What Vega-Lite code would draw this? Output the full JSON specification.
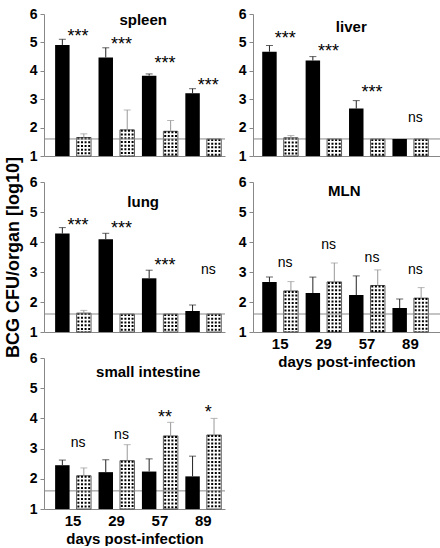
{
  "$schema": "https://vega.github.io/schema/vega-lite/v6.json",
  "padding": {"left": 4, "top": 7, "right": 0, "bottom": 0},
  "columns": 2,
  "spacing": {"row": 26, "column": 28},
  "bounds": "flush",
  "datasets": {
    "cfu": [
      {"organ": "spleen", "day": 15, "group": "black", "value": 4.91, "upper": 5.11},
      {"organ": "spleen", "day": 15, "group": "dotted", "value": 1.65, "upper": 1.78},
      {"organ": "spleen", "day": 29, "group": "black", "value": 4.47, "upper": 4.81},
      {"organ": "spleen", "day": 29, "group": "dotted", "value": 1.92, "upper": 2.62},
      {"organ": "spleen", "day": 57, "group": "black", "value": 3.83, "upper": 3.89},
      {"organ": "spleen", "day": 57, "group": "dotted", "value": 1.87, "upper": 2.25},
      {"organ": "spleen", "day": 89, "group": "black", "value": 3.21, "upper": 3.37},
      {"organ": "spleen", "day": 89, "group": "dotted", "value": 1.6, "upper": null},
      {"organ": "liver", "day": 15, "group": "black", "value": 4.67, "upper": 4.89},
      {"organ": "liver", "day": 15, "group": "dotted", "value": 1.64, "upper": 1.72},
      {"organ": "liver", "day": 29, "group": "black", "value": 4.36, "upper": 4.5},
      {"organ": "liver", "day": 29, "group": "dotted", "value": 1.6, "upper": null},
      {"organ": "liver", "day": 57, "group": "black", "value": 2.67, "upper": 2.95},
      {"organ": "liver", "day": 57, "group": "dotted", "value": 1.6, "upper": null},
      {"organ": "liver", "day": 89, "group": "black", "value": 1.6, "upper": null},
      {"organ": "liver", "day": 89, "group": "dotted", "value": 1.6, "upper": null},
      {"organ": "lung", "day": 15, "group": "black", "value": 4.28, "upper": 4.48},
      {"organ": "lung", "day": 15, "group": "dotted", "value": 1.63, "upper": 1.72},
      {"organ": "lung", "day": 29, "group": "black", "value": 4.09, "upper": 4.29},
      {"organ": "lung", "day": 29, "group": "dotted", "value": 1.6, "upper": null},
      {"organ": "lung", "day": 57, "group": "black", "value": 2.79, "upper": 3.06},
      {"organ": "lung", "day": 57, "group": "dotted", "value": 1.6, "upper": null},
      {"organ": "lung", "day": 89, "group": "black", "value": 1.7, "upper": 1.9},
      {"organ": "lung", "day": 89, "group": "dotted", "value": 1.6, "upper": null},
      {"organ": "MLN", "day": 15, "group": "black", "value": 2.67, "upper": 2.83},
      {"organ": "MLN", "day": 15, "group": "dotted", "value": 2.37, "upper": 2.68},
      {"organ": "MLN", "day": 29, "group": "black", "value": 2.3, "upper": 2.83},
      {"organ": "MLN", "day": 29, "group": "dotted", "value": 2.67, "upper": 3.3},
      {"organ": "MLN", "day": 57, "group": "black", "value": 2.23, "upper": 2.87},
      {"organ": "MLN", "day": 57, "group": "dotted", "value": 2.55, "upper": 3.07},
      {"organ": "MLN", "day": 89, "group": "black", "value": 1.8, "upper": 2.1},
      {"organ": "MLN", "day": 89, "group": "dotted", "value": 2.13, "upper": 2.48},
      {"organ": "small intestine", "day": 15, "group": "black", "value": 2.45, "upper": 2.62},
      {"organ": "small intestine", "day": 15, "group": "dotted", "value": 2.1, "upper": 2.36},
      {"organ": "small intestine", "day": 29, "group": "black", "value": 2.22, "upper": 2.63},
      {"organ": "small intestine", "day": 29, "group": "dotted", "value": 2.6, "upper": 3.13},
      {"organ": "small intestine", "day": 57, "group": "black", "value": 2.24, "upper": 2.66},
      {"organ": "small intestine", "day": 57, "group": "dotted", "value": 3.42, "upper": 3.87},
      {"organ": "small intestine", "day": 89, "group": "black", "value": 2.08, "upper": 2.75},
      {"organ": "small intestine", "day": 89, "group": "dotted", "value": 3.45, "upper": 4.0}
    ],
    "sig": [
      {"organ": "spleen", "day": 15, "label": "***", "at": 5.2},
      {"organ": "spleen", "day": 29, "label": "***", "at": 4.9},
      {"organ": "spleen", "day": 57, "label": "***", "at": 4.23},
      {"organ": "spleen", "day": 89, "label": "***", "at": 3.48},
      {"organ": "liver", "day": 15, "label": "***", "at": 5.12},
      {"organ": "liver", "day": 29, "label": "***", "at": 4.66},
      {"organ": "liver", "day": 57, "label": "***", "at": 3.23},
      {"organ": "liver", "day": 89, "label": "ns", "at": 2.34},
      {"organ": "lung", "day": 15, "label": "***", "at": 4.52},
      {"organ": "lung", "day": 29, "label": "***", "at": 4.45},
      {"organ": "lung", "day": 57, "label": "***", "at": 3.21},
      {"organ": "lung", "day": 89, "label": "ns", "at": 3.07},
      {"organ": "MLN", "day": 15, "label": "ns", "at": 3.3},
      {"organ": "MLN", "day": 29, "label": "ns", "at": 3.9},
      {"organ": "MLN", "day": 57, "label": "ns", "at": 3.48},
      {"organ": "MLN", "day": 89, "label": "ns", "at": 3.08},
      {"organ": "small intestine", "day": 15, "label": "ns", "at": 3.19},
      {"organ": "small intestine", "day": 29, "label": "ns", "at": 3.44},
      {"organ": "small intestine", "day": 57, "label": "**", "at": 4.01},
      {"organ": "small intestine", "day": 89, "label": "*", "at": 4.18}
    ]
  },
  "concat": [
    {
      "width": 181, "height": 142,
      "layer": [
        {"data": {"name": "cfu"}, "transform": [{"filter": "datum.organ === 'spleen' && datum.group === 'dotted'"}],
         "mark": {"type": "bar", "fill": "white", "stroke": "#333", "strokeWidth": 0.8},
         "encoding": {
           "x": {"field": "day", "type": "ordinal", "scale": {"paddingInner": 0, "paddingOuter": 0.085, "align": 1}, "axis": {"labels": false, "ticks": false, "title": null}},
           "xOffset": {"field": "group", "type": "nominal", "scale": {"domain": ["black", "dotted"], "paddingInner": 0.326, "paddingOuter": 0.174}},
           "y": {"field": "value", "type": "quantitative", "scale": {"domain": [1, 6], "nice": false, "zero": false}, "axis": {"values": [1, 2, 3, 4, 5, 6], "labelOverlap": false, "labelFontSize": 14, "labelFontWeight": "bold", "tickSize": 4, "labelPadding": 3, "title": null}},
           "y2": {"datum": 1}}},
        {"data": {"name": "cfu"}, "transform": [{"filter": "datum.organ === 'spleen' && datum.group === 'dotted'"}],
         "mark": {"type": "rule", "color": "black", "strokeWidth": 2, "strokeDash": [2, 1.7], "xOffset": 5.3},
         "encoding": {"x": {"field": "day", "type": "ordinal"}, "y": {"field": "value", "type": "quantitative"}, "y2": {"datum": 1}}},
        {"data": {"name": "cfu"}, "transform": [{"filter": "datum.organ === 'spleen' && datum.group === 'dotted'"}],
         "mark": {"type": "rule", "color": "black", "strokeWidth": 2, "strokeDash": [2, 1.7], "xOffset": 8.9},
         "encoding": {"x": {"field": "day", "type": "ordinal"}, "y": {"field": "value", "type": "quantitative"}, "y2": {"datum": 1}}},
        {"data": {"name": "cfu"}, "transform": [{"filter": "datum.organ === 'spleen' && datum.group === 'dotted'"}],
         "mark": {"type": "rule", "color": "black", "strokeWidth": 2, "strokeDash": [2, 1.7], "xOffset": 12.5},
         "encoding": {"x": {"field": "day", "type": "ordinal"}, "y": {"field": "value", "type": "quantitative"}, "y2": {"datum": 1}}},
        {"data": {"name": "cfu"}, "transform": [{"filter": "datum.organ === 'spleen' && datum.group === 'dotted'"}],
         "mark": {"type": "rule", "color": "black", "strokeWidth": 2, "strokeDash": [2, 1.7], "xOffset": 16.1},
         "encoding": {"x": {"field": "day", "type": "ordinal"}, "y": {"field": "value", "type": "quantitative"}, "y2": {"datum": 1}}},
        {"data": {"values": [{}]}, "mark": {"type": "rule", "color": "#888", "strokeWidth": 1}, "encoding": {"y": {"datum": 1.6}}},
        {"data": {"name": "cfu"}, "transform": [{"filter": "datum.organ === 'spleen' && datum.group === 'black'"}],
         "mark": {"type": "bar", "color": "black"},
         "encoding": {"x": {"field": "day", "type": "ordinal"}, "xOffset": {"field": "group", "type": "nominal"}, "y": {"field": "value", "type": "quantitative"}, "y2": {"datum": 1}}},
        {"data": {"name": "cfu"}, "transform": [{"filter": "datum.organ === 'spleen' && datum.upper != null"}],
         "mark": {"type": "rule", "strokeWidth": 1},
         "encoding": {"x": {"field": "day", "type": "ordinal"}, "xOffset": {"field": "group", "type": "nominal"}, "y": {"field": "value", "type": "quantitative"}, "y2": {"field": "upper"},
           "color": {"field": "group", "type": "nominal", "scale": {"domain": ["black", "dotted"], "range": ["#222", "#999"]}, "legend": null}}},
        {"data": {"name": "cfu"}, "transform": [{"filter": "datum.organ === 'spleen' && datum.upper != null"}],
         "mark": {"type": "tick", "size": 7, "thickness": 1},
         "encoding": {"x": {"field": "day", "type": "ordinal"}, "xOffset": {"field": "group", "type": "nominal"}, "y": {"field": "upper", "type": "quantitative"},
           "color": {"field": "group", "type": "nominal", "scale": {"domain": ["black", "dotted"], "range": ["#222", "#999"]}, "legend": null}}},
        {"data": {"name": "sig"}, "transform": [{"filter": "datum.organ === 'spleen'"}],
         "mark": {"type": "text", "fontSize": 18, "dx": 5, "baseline": "middle"},
         "encoding": {"x": {"field": "day", "type": "ordinal"}, "y": {"field": "at", "type": "quantitative"}, "text": {"field": "label"}}},
        {"data": {"values": [{"t": "spleen"}]},
         "mark": {"type": "text", "fontSize": 15, "fontWeight": "bold", "dx": 5, "baseline": "middle"},
         "encoding": {"x": {"datum": 29, "type": "ordinal", "bandPosition": 1}, "y": {"datum": 5.8, "type": "quantitative"}, "text": {"field": "t"}}}
      ]
    },
    {
      "width": 187, "height": 142,
      "layer": [
        {"data": {"name": "cfu"}, "transform": [{"filter": "datum.organ === 'liver' && datum.group === 'dotted'"}],
         "mark": {"type": "bar", "fill": "white", "stroke": "#333", "strokeWidth": 0.8},
         "encoding": {
           "x": {"field": "day", "type": "ordinal", "scale": {"paddingInner": 0, "paddingOuter": 0.154, "align": 0.41}, "axis": {"labels": false, "ticks": false, "title": null}},
           "xOffset": {"field": "group", "type": "nominal", "scale": {"domain": ["black", "dotted"], "paddingInner": 0.326, "paddingOuter": 0.174}},
           "y": {"field": "value", "type": "quantitative", "scale": {"domain": [1, 6], "nice": false, "zero": false}, "axis": {"values": [1, 2, 3, 4, 5, 6], "labelOverlap": false, "labelFontSize": 14, "labelFontWeight": "bold", "tickSize": 4, "labelPadding": 3, "title": null}},
           "y2": {"datum": 1}}},
        {"data": {"name": "cfu"}, "transform": [{"filter": "datum.organ === 'liver' && datum.group === 'dotted'"}],
         "mark": {"type": "rule", "color": "black", "strokeWidth": 2, "strokeDash": [2, 1.7], "xOffset": 5.3},
         "encoding": {"x": {"field": "day", "type": "ordinal"}, "y": {"field": "value", "type": "quantitative"}, "y2": {"datum": 1}}},
        {"data": {"name": "cfu"}, "transform": [{"filter": "datum.organ === 'liver' && datum.group === 'dotted'"}],
         "mark": {"type": "rule", "color": "black", "strokeWidth": 2, "strokeDash": [2, 1.7], "xOffset": 8.9},
         "encoding": {"x": {"field": "day", "type": "ordinal"}, "y": {"field": "value", "type": "quantitative"}, "y2": {"datum": 1}}},
        {"data": {"name": "cfu"}, "transform": [{"filter": "datum.organ === 'liver' && datum.group === 'dotted'"}],
         "mark": {"type": "rule", "color": "black", "strokeWidth": 2, "strokeDash": [2, 1.7], "xOffset": 12.5},
         "encoding": {"x": {"field": "day", "type": "ordinal"}, "y": {"field": "value", "type": "quantitative"}, "y2": {"datum": 1}}},
        {"data": {"name": "cfu"}, "transform": [{"filter": "datum.organ === 'liver' && datum.group === 'dotted'"}],
         "mark": {"type": "rule", "color": "black", "strokeWidth": 2, "strokeDash": [2, 1.7], "xOffset": 16.1},
         "encoding": {"x": {"field": "day", "type": "ordinal"}, "y": {"field": "value", "type": "quantitative"}, "y2": {"datum": 1}}},
        {"data": {"values": [{}]}, "mark": {"type": "rule", "color": "#888", "strokeWidth": 1}, "encoding": {"y": {"datum": 1.6}}},
        {"data": {"name": "cfu"}, "transform": [{"filter": "datum.organ === 'liver' && datum.group === 'black'"}],
         "mark": {"type": "bar", "color": "black"},
         "encoding": {"x": {"field": "day", "type": "ordinal"}, "xOffset": {"field": "group", "type": "nominal"}, "y": {"field": "value", "type": "quantitative"}, "y2": {"datum": 1}}},
        {"data": {"name": "cfu"}, "transform": [{"filter": "datum.organ === 'liver' && datum.upper != null"}],
         "mark": {"type": "rule", "strokeWidth": 1},
         "encoding": {"x": {"field": "day", "type": "ordinal"}, "xOffset": {"field": "group", "type": "nominal"}, "y": {"field": "value", "type": "quantitative"}, "y2": {"field": "upper"},
           "color": {"field": "group", "type": "nominal", "scale": {"domain": ["black", "dotted"], "range": ["#222", "#999"]}, "legend": null}}},
        {"data": {"name": "cfu"}, "transform": [{"filter": "datum.organ === 'liver' && datum.upper != null"}],
         "mark": {"type": "tick", "size": 7, "thickness": 1},
         "encoding": {"x": {"field": "day", "type": "ordinal"}, "xOffset": {"field": "group", "type": "nominal"}, "y": {"field": "upper", "type": "quantitative"},
           "color": {"field": "group", "type": "nominal", "scale": {"domain": ["black", "dotted"], "range": ["#222", "#999"]}, "legend": null}}},
        {"data": {"name": "sig"}, "transform": [{"filter": "datum.organ === 'liver' && datum.label !== 'ns'"}],
         "mark": {"type": "text", "fontSize": 18, "dx": 5, "baseline": "middle"},
         "encoding": {"x": {"field": "day", "type": "ordinal"}, "y": {"field": "at", "type": "quantitative"}, "text": {"field": "label"}}},
        {"data": {"name": "sig"}, "transform": [{"filter": "datum.organ === 'liver' && datum.label === 'ns'"}],
         "mark": {"type": "text", "fontSize": 14, "dx": 5, "baseline": "middle"},
         "encoding": {"x": {"field": "day", "type": "ordinal"}, "y": {"field": "at", "type": "quantitative"}, "text": {"field": "label"}}},
        {"data": {"values": [{"t": "liver"}]},
         "mark": {"type": "text", "fontSize": 15, "fontWeight": "bold", "dx": 6, "baseline": "middle"},
         "encoding": {"x": {"datum": 29, "type": "ordinal", "bandPosition": 1}, "y": {"datum": 5.55, "type": "quantitative"}, "text": {"field": "t"}}}
      ]
    },
    {
      "width": 181, "height": 150,
      "layer": [
        {"data": {"name": "cfu"}, "transform": [{"filter": "datum.organ === 'lung' && datum.group === 'dotted'"}],
         "mark": {"type": "bar", "fill": "white", "stroke": "#333", "strokeWidth": 0.8},
         "encoding": {
           "x": {"field": "day", "type": "ordinal", "scale": {"paddingInner": 0, "paddingOuter": 0.085, "align": 1}, "axis": {"labels": false, "ticks": false, "title": null}},
           "xOffset": {"field": "group", "type": "nominal", "scale": {"domain": ["black", "dotted"], "paddingInner": 0.326, "paddingOuter": 0.174}},
           "y": {"field": "value", "type": "quantitative", "scale": {"domain": [1, 6], "nice": false, "zero": false}, "axis": {"values": [1, 2, 3, 4, 5, 6], "labelOverlap": false, "labelFontSize": 14, "labelFontWeight": "bold", "tickSize": 4, "labelPadding": 3, "title": "BCG CFU/organ [log10]", "titleFontSize": 18, "titleFontWeight": "bold", "titlePadding": 7}},
           "y2": {"datum": 1}}},
        {"data": {"name": "cfu"}, "transform": [{"filter": "datum.organ === 'lung' && datum.group === 'dotted'"}],
         "mark": {"type": "rule", "color": "black", "strokeWidth": 2, "strokeDash": [2, 1.7], "xOffset": 5.3},
         "encoding": {"x": {"field": "day", "type": "ordinal"}, "y": {"field": "value", "type": "quantitative"}, "y2": {"datum": 1}}},
        {"data": {"name": "cfu"}, "transform": [{"filter": "datum.organ === 'lung' && datum.group === 'dotted'"}],
         "mark": {"type": "rule", "color": "black", "strokeWidth": 2, "strokeDash": [2, 1.7], "xOffset": 8.9},
         "encoding": {"x": {"field": "day", "type": "ordinal"}, "y": {"field": "value", "type": "quantitative"}, "y2": {"datum": 1}}},
        {"data": {"name": "cfu"}, "transform": [{"filter": "datum.organ === 'lung' && datum.group === 'dotted'"}],
         "mark": {"type": "rule", "color": "black", "strokeWidth": 2, "strokeDash": [2, 1.7], "xOffset": 12.5},
         "encoding": {"x": {"field": "day", "type": "ordinal"}, "y": {"field": "value", "type": "quantitative"}, "y2": {"datum": 1}}},
        {"data": {"name": "cfu"}, "transform": [{"filter": "datum.organ === 'lung' && datum.group === 'dotted'"}],
         "mark": {"type": "rule", "color": "black", "strokeWidth": 2, "strokeDash": [2, 1.7], "xOffset": 16.1},
         "encoding": {"x": {"field": "day", "type": "ordinal"}, "y": {"field": "value", "type": "quantitative"}, "y2": {"datum": 1}}},
        {"data": {"values": [{}]}, "mark": {"type": "rule", "color": "#888", "strokeWidth": 1}, "encoding": {"y": {"datum": 1.6}}},
        {"data": {"name": "cfu"}, "transform": [{"filter": "datum.organ === 'lung' && datum.group === 'black'"}],
         "mark": {"type": "bar", "color": "black"},
         "encoding": {"x": {"field": "day", "type": "ordinal"}, "xOffset": {"field": "group", "type": "nominal"}, "y": {"field": "value", "type": "quantitative"}, "y2": {"datum": 1}}},
        {"data": {"name": "cfu"}, "transform": [{"filter": "datum.organ === 'lung' && datum.upper != null"}],
         "mark": {"type": "rule", "strokeWidth": 1},
         "encoding": {"x": {"field": "day", "type": "ordinal"}, "xOffset": {"field": "group", "type": "nominal"}, "y": {"field": "value", "type": "quantitative"}, "y2": {"field": "upper"},
           "color": {"field": "group", "type": "nominal", "scale": {"domain": ["black", "dotted"], "range": ["#222", "#999"]}, "legend": null}}},
        {"data": {"name": "cfu"}, "transform": [{"filter": "datum.organ === 'lung' && datum.upper != null"}],
         "mark": {"type": "tick", "size": 7, "thickness": 1},
         "encoding": {"x": {"field": "day", "type": "ordinal"}, "xOffset": {"field": "group", "type": "nominal"}, "y": {"field": "upper", "type": "quantitative"},
           "color": {"field": "group", "type": "nominal", "scale": {"domain": ["black", "dotted"], "range": ["#222", "#999"]}, "legend": null}}},
        {"data": {"name": "sig"}, "transform": [{"filter": "datum.organ === 'lung' && datum.label !== 'ns'"}],
         "mark": {"type": "text", "fontSize": 18, "dx": 5, "baseline": "middle"},
         "encoding": {"x": {"field": "day", "type": "ordinal"}, "y": {"field": "at", "type": "quantitative"}, "text": {"field": "label"}}},
        {"data": {"name": "sig"}, "transform": [{"filter": "datum.organ === 'lung' && datum.label === 'ns'"}],
         "mark": {"type": "text", "fontSize": 14, "dx": 5, "baseline": "middle"},
         "encoding": {"x": {"field": "day", "type": "ordinal"}, "y": {"field": "at", "type": "quantitative"}, "text": {"field": "label"}}},
        {"data": {"values": [{"t": "lung"}]},
         "mark": {"type": "text", "fontSize": 15, "fontWeight": "bold", "dx": 5, "baseline": "middle"},
         "encoding": {"x": {"datum": 29, "type": "ordinal", "bandPosition": 1}, "y": {"datum": 5.33, "type": "quantitative"}, "text": {"field": "t"}}}
      ]
    },
    {
      "width": 187, "height": 150,
      "layer": [
        {"data": {"name": "cfu"}, "transform": [{"filter": "datum.organ === 'MLN' && datum.group === 'dotted'"}],
         "mark": {"type": "bar", "fill": "white", "stroke": "#333", "strokeWidth": 0.8},
         "encoding": {
           "x": {"field": "day", "type": "ordinal", "scale": {"paddingInner": 0, "paddingOuter": 0.154, "align": 0.41}, "axis": {"labelAngle": 0, "labelFontSize": 15, "labelFontWeight": "bold", "ticks": false, "labelPadding": 4, "title": "days post-infection", "titleFontSize": 15, "titleFontWeight": "bold", "titlePadding": 3}},
           "xOffset": {"field": "group", "type": "nominal", "scale": {"domain": ["black", "dotted"], "paddingInner": 0.326, "paddingOuter": 0.174}},
           "y": {"field": "value", "type": "quantitative", "scale": {"domain": [1, 6], "nice": false, "zero": false}, "axis": {"values": [1, 2, 3, 4, 5, 6], "labelOverlap": false, "labelFontSize": 14, "labelFontWeight": "bold", "tickSize": 4, "labelPadding": 3, "title": null}},
           "y2": {"datum": 1}}},
        {"data": {"name": "cfu"}, "transform": [{"filter": "datum.organ === 'MLN' && datum.group === 'dotted'"}],
         "mark": {"type": "rule", "color": "black", "strokeWidth": 2, "strokeDash": [2, 1.7], "xOffset": 5.3},
         "encoding": {"x": {"field": "day", "type": "ordinal"}, "y": {"field": "value", "type": "quantitative"}, "y2": {"datum": 1}}},
        {"data": {"name": "cfu"}, "transform": [{"filter": "datum.organ === 'MLN' && datum.group === 'dotted'"}],
         "mark": {"type": "rule", "color": "black", "strokeWidth": 2, "strokeDash": [2, 1.7], "xOffset": 8.9},
         "encoding": {"x": {"field": "day", "type": "ordinal"}, "y": {"field": "value", "type": "quantitative"}, "y2": {"datum": 1}}},
        {"data": {"name": "cfu"}, "transform": [{"filter": "datum.organ === 'MLN' && datum.group === 'dotted'"}],
         "mark": {"type": "rule", "color": "black", "strokeWidth": 2, "strokeDash": [2, 1.7], "xOffset": 12.5},
         "encoding": {"x": {"field": "day", "type": "ordinal"}, "y": {"field": "value", "type": "quantitative"}, "y2": {"datum": 1}}},
        {"data": {"name": "cfu"}, "transform": [{"filter": "datum.organ === 'MLN' && datum.group === 'dotted'"}],
         "mark": {"type": "rule", "color": "black", "strokeWidth": 2, "strokeDash": [2, 1.7], "xOffset": 16.1},
         "encoding": {"x": {"field": "day", "type": "ordinal"}, "y": {"field": "value", "type": "quantitative"}, "y2": {"datum": 1}}},
        {"data": {"values": [{}]}, "mark": {"type": "rule", "color": "#888", "strokeWidth": 1}, "encoding": {"y": {"datum": 1.6}}},
        {"data": {"name": "cfu"}, "transform": [{"filter": "datum.organ === 'MLN' && datum.group === 'black'"}],
         "mark": {"type": "bar", "color": "black"},
         "encoding": {"x": {"field": "day", "type": "ordinal"}, "xOffset": {"field": "group", "type": "nominal"}, "y": {"field": "value", "type": "quantitative"}, "y2": {"datum": 1}}},
        {"data": {"name": "cfu"}, "transform": [{"filter": "datum.organ === 'MLN' && datum.upper != null"}],
         "mark": {"type": "rule", "strokeWidth": 1},
         "encoding": {"x": {"field": "day", "type": "ordinal"}, "xOffset": {"field": "group", "type": "nominal"}, "y": {"field": "value", "type": "quantitative"}, "y2": {"field": "upper"},
           "color": {"field": "group", "type": "nominal", "scale": {"domain": ["black", "dotted"], "range": ["#222", "#999"]}, "legend": null}}},
        {"data": {"name": "cfu"}, "transform": [{"filter": "datum.organ === 'MLN' && datum.upper != null"}],
         "mark": {"type": "tick", "size": 7, "thickness": 1},
         "encoding": {"x": {"field": "day", "type": "ordinal"}, "xOffset": {"field": "group", "type": "nominal"}, "y": {"field": "upper", "type": "quantitative"},
           "color": {"field": "group", "type": "nominal", "scale": {"domain": ["black", "dotted"], "range": ["#222", "#999"]}, "legend": null}}},
        {"data": {"name": "sig"}, "transform": [{"filter": "datum.organ === 'MLN'"}],
         "mark": {"type": "text", "fontSize": 14, "dx": 5, "baseline": "middle"},
         "encoding": {"x": {"field": "day", "type": "ordinal"}, "y": {"field": "at", "type": "quantitative"}, "text": {"field": "label"}}},
        {"data": {"values": [{"t": "MLN"}]},
         "mark": {"type": "text", "fontSize": 15, "fontWeight": "bold", "dx": -1, "baseline": "middle"},
         "encoding": {"x": {"datum": 29, "type": "ordinal", "bandPosition": 1}, "y": {"datum": 5.7, "type": "quantitative"}, "text": {"field": "t"}}}
      ]
    },
    {
      "width": 181, "height": 151,
      "layer": [
        {"data": {"name": "cfu"}, "transform": [{"filter": "datum.organ === 'small intestine' && datum.group === 'dotted'"}],
         "mark": {"type": "bar", "fill": "white", "stroke": "#333", "strokeWidth": 0.8},
         "encoding": {
           "x": {"field": "day", "type": "ordinal", "scale": {"paddingInner": 0, "paddingOuter": 0.085, "align": 1}, "axis": {"labelAngle": 0, "labelFontSize": 15, "labelFontWeight": "bold", "ticks": false, "labelPadding": 4, "title": "days post-infection", "titleFontSize": 15, "titleFontWeight": "bold", "titlePadding": 3}},
           "xOffset": {"field": "group", "type": "nominal", "scale": {"domain": ["black", "dotted"], "paddingInner": 0.326, "paddingOuter": 0.174}},
           "y": {"field": "value", "type": "quantitative", "scale": {"domain": [1, 6], "nice": false, "zero": false}, "axis": {"values": [1, 2, 3, 4, 5, 6], "labelOverlap": false, "labelFontSize": 14, "labelFontWeight": "bold", "tickSize": 4, "labelPadding": 3, "title": null}},
           "y2": {"datum": 1}}},
        {"data": {"name": "cfu"}, "transform": [{"filter": "datum.organ === 'small intestine' && datum.group === 'dotted'"}],
         "mark": {"type": "rule", "color": "black", "strokeWidth": 2, "strokeDash": [2, 1.7], "xOffset": 5.3},
         "encoding": {"x": {"field": "day", "type": "ordinal"}, "y": {"field": "value", "type": "quantitative"}, "y2": {"datum": 1}}},
        {"data": {"name": "cfu"}, "transform": [{"filter": "datum.organ === 'small intestine' && datum.group === 'dotted'"}],
         "mark": {"type": "rule", "color": "black", "strokeWidth": 2, "strokeDash": [2, 1.7], "xOffset": 8.9},
         "encoding": {"x": {"field": "day", "type": "ordinal"}, "y": {"field": "value", "type": "quantitative"}, "y2": {"datum": 1}}},
        {"data": {"name": "cfu"}, "transform": [{"filter": "datum.organ === 'small intestine' && datum.group === 'dotted'"}],
         "mark": {"type": "rule", "color": "black", "strokeWidth": 2, "strokeDash": [2, 1.7], "xOffset": 12.5},
         "encoding": {"x": {"field": "day", "type": "ordinal"}, "y": {"field": "value", "type": "quantitative"}, "y2": {"datum": 1}}},
        {"data": {"name": "cfu"}, "transform": [{"filter": "datum.organ === 'small intestine' && datum.group === 'dotted'"}],
         "mark": {"type": "rule", "color": "black", "strokeWidth": 2, "strokeDash": [2, 1.7], "xOffset": 16.1},
         "encoding": {"x": {"field": "day", "type": "ordinal"}, "y": {"field": "value", "type": "quantitative"}, "y2": {"datum": 1}}},
        {"data": {"values": [{}]}, "mark": {"type": "rule", "color": "#888", "strokeWidth": 1}, "encoding": {"y": {"datum": 1.6}}},
        {"data": {"name": "cfu"}, "transform": [{"filter": "datum.organ === 'small intestine' && datum.group === 'black'"}],
         "mark": {"type": "bar", "color": "black"},
         "encoding": {"x": {"field": "day", "type": "ordinal"}, "xOffset": {"field": "group", "type": "nominal"}, "y": {"field": "value", "type": "quantitative"}, "y2": {"datum": 1}}},
        {"data": {"name": "cfu"}, "transform": [{"filter": "datum.organ === 'small intestine' && datum.upper != null"}],
         "mark": {"type": "rule", "strokeWidth": 1},
         "encoding": {"x": {"field": "day", "type": "ordinal"}, "xOffset": {"field": "group", "type": "nominal"}, "y": {"field": "value", "type": "quantitative"}, "y2": {"field": "upper"},
           "color": {"field": "group", "type": "nominal", "scale": {"domain": ["black", "dotted"], "range": ["#222", "#999"]}, "legend": null}}},
        {"data": {"name": "cfu"}, "transform": [{"filter": "datum.organ === 'small intestine' && datum.upper != null"}],
         "mark": {"type": "tick", "size": 7, "thickness": 1},
         "encoding": {"x": {"field": "day", "type": "ordinal"}, "xOffset": {"field": "group", "type": "nominal"}, "y": {"field": "upper", "type": "quantitative"},
           "color": {"field": "group", "type": "nominal", "scale": {"domain": ["black", "dotted"], "range": ["#222", "#999"]}, "legend": null}}},
        {"data": {"name": "sig"}, "transform": [{"filter": "datum.organ === 'small intestine' && datum.label !== 'ns'"}],
         "mark": {"type": "text", "fontSize": 18, "dx": 5, "baseline": "middle"},
         "encoding": {"x": {"field": "day", "type": "ordinal"}, "y": {"field": "at", "type": "quantitative"}, "text": {"field": "label"}}},
        {"data": {"name": "sig"}, "transform": [{"filter": "datum.organ === 'small intestine' && datum.label === 'ns'"}],
         "mark": {"type": "text", "fontSize": 14, "dx": 5, "baseline": "middle"},
         "encoding": {"x": {"field": "day", "type": "ordinal"}, "y": {"field": "at", "type": "quantitative"}, "text": {"field": "label"}}},
        {"data": {"values": [{"t": "small intestine"}]},
         "mark": {"type": "text", "fontSize": 15, "fontWeight": "bold", "dx": 10, "baseline": "middle"},
         "encoding": {"x": {"datum": 29, "type": "ordinal", "bandPosition": 1}, "y": {"datum": 5.54, "type": "quantitative"}, "text": {"field": "t"}}}
      ]
    }
  ],
  "config": {
    "view": {"stroke": null},
    "font": "Liberation Sans",
    "axis": {"grid": false, "labelOverlap": false, "labelFont": "Liberation Sans", "titleFont": "Liberation Sans", "labelColor": "black", "titleColor": "black", "domainColor": "#888", "tickColor": "#888"},
    "axisY": {"labelOverlap": false, "values": [1, 2, 3, 4, 5, 6], "tickCount": 6},
    "text": {"font": "Liberation Sans", "color": "black"}
  }
}
